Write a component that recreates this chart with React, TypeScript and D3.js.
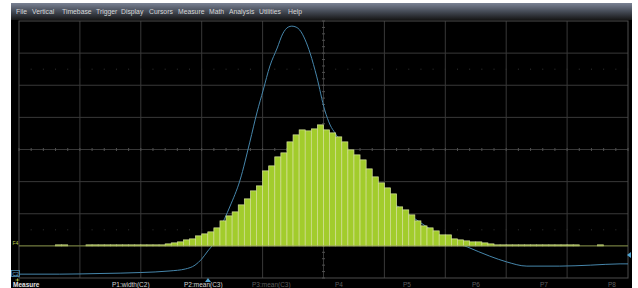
import React from "react";
import * as d3 from "d3";

const WIDTH = 638;
const HEIGHT = 288;

// histogram of the F4 math trace, 100 bins across 10 divisions
const binCounts = [
  0, 0, 0, 0, 0, 0, 1, 1, 0, 0,
  0, 1, 1, 1, 1, 1, 1, 1, 1, 1,
  1, 1, 1, 1, 2, 3, 4, 6, 7, 10,
  12, 14, 18, 25, 30, 34, 41, 47, 55, 60,
  75, 80, 89, 93, 104, 111, 116, 115, 117, 121,
  116, 113, 109, 104, 96, 91, 86, 77, 69, 63,
  58, 52, 39, 36, 31, 25, 20, 18, 15, 11,
  11, 7, 6, 5, 4, 4, 3, 2, 1, 1,
  1, 1, 1, 1, 1, 1, 1, 1, 1, 1,
  1, 1, 0, 0, 0, 1, 0, 0, 0, 0,
];

// C2 trace, in divisions (x: 0..10, y: 0..8 from bottom)
const traceX = [
  0, 0.67, 1.33, 1.99, 2.48, 2.73, 2.89, 3.0, 3.1, 3.19, 3.3, 3.46, 3.63,
  3.79, 3.91, 4.01, 4.12, 4.24, 4.33, 4.42, 4.48, 4.55, 4.61, 4.7, 4.78,
  4.89, 5.02, 5.11, 5.19, 5.6, 6.09, 6.58, 6.99, 7.37, 7.73, 8.01, 8.34,
  8.88, 9.38, 9.87, 10,
];
const traceY = [
  0.12, 0.12, 0.14, 0.17, 0.22, 0.28, 0.4, 0.59, 0.84, 1.06, 1.53, 2.21,
  3.05, 4.23, 5.17, 5.85, 6.6, 7.16, 7.6, 7.81, 7.84, 7.81, 7.72, 7.41, 7.0,
  6.26, 5.23, 4.76, 4.51, 3.36, 2.43, 1.74, 1.25, 0.96, 0.68, 0.5, 0.37,
  0.37, 0.4, 0.44, 0.44,
];

const menuItems = [
  "File", "Vertical", "Timebase", "Trigger", "Display", "Cursors",
  "Measure", "Math", "Analysis", "Utilities", "Help",
];
const menuX = [16, 32, 62, 96, 121, 149, 178, 209, 229, 259, 288];

const measureLabels = [
  "P1:width(C2)", "P2:mean(C3)", "P3:mean(C3)", "P4", "P5", "P6", "P7", "P8",
];
const measureX = [112, 184, 252, 335, 403, 472, 540, 608];

export default function App() {
  const x = d3.scaleLinear().domain([0, 10]).range([19, 628]);
  const y = d3.scaleLinear().domain([0, 8]).range([278, 21]);
  const binX = d3.scaleLinear().domain([0, binCounts.length]).range([19, 628]);
  const yHist = d3.scaleLinear().domain([0, 128.5]).range([y(1), y(5)]);

  const trace = d3
    .line<number>()
    .x((d, i) => x(traceX[i]))
    .y(d => y(d))
    .curve(d3.curveMonotoneX)(traceY);

  const minor = d3.range(0, 10.001, 0.2);
  const minorY = d3.range(0, 8.001, 0.2);

  return (
    <svg
      width={WIDTH}
      height={HEIGHT}
      style={{ position: "absolute", left: 0, top: 0 }}
      fontFamily="'Liberation Sans', Arial, sans-serif"
    >
      <defs>
        <linearGradient id="menu" x1="0" y1="0" x2="0" y2="1">
          <stop offset="0" stopColor="#7a8294" />
          <stop offset="0.45" stopColor="#4a505c" />
          <stop offset="1" stopColor="#161616" />
        </linearGradient>
      </defs>
      <rect x={0} y={0} width={WIDTH} height={HEIGHT} fill="#fff" />
      <rect x={11} y={3} width={621} height={HEIGHT - 3} fill="#000" />
      <rect x={11} y={3} width={621} height={17} fill="url(#menu)" />
      {menuItems.map((m, i) => (
        <text key={m} x={menuX[i]} y={14} fontSize={6.8} fill="#d6d6d6">
          {m}
        </text>
      ))}

      {/* grid */}
      {d3.range(1, 10).map(i => (
        <line key={"v" + i} x1={x(i)} x2={x(i)} y1={y(0)} y2={y(8)} stroke="#383838" />
      ))}
      {d3.range(1, 8).map(i => (
        <line key={"h" + i} x1={x(0)} x2={x(10)} y1={y(i)} y2={y(i)} stroke="#383838" />
      ))}
      <rect x={x(0)} y={y(8)} width={x(10) - x(0)} height={y(0) - y(8)} fill="none" stroke="#4c4c4c" />
      {minor.map(v => (
        <g key={"t" + v}>
          <line x1={x(v)} x2={x(v)} y1={y(4) - 1.5} y2={y(4) + 1.5} stroke="#505050" />
          <rect x={x(v) - 0.5} y={y(6.5) - 0.5} width={1} height={1} fill="#333" />
          <rect x={x(v) - 0.5} y={y(1.5) - 0.5} width={1} height={1} fill="#333" />
        </g>
      ))}
      {minorY.map(v => (
        <line key={"ty" + v} x1={x(5) - 1.5} x2={x(5) + 1.5} y1={y(v)} y2={y(v)} stroke="#505050" />
      ))}

      {/* C2 trace */}
      <path d={trace ?? ""} fill="none" stroke="#4686ab" strokeWidth={1} />

      {/* histogram */}
      {binCounts.map((c, i) =>
        c > 0 ? (
          <rect
            key={"b" + i}
            x={binX(i)}
            y={yHist(c)}
            width={binX(i + 1) - binX(i)}
            height={yHist(0) - yHist(c)}
            fill="#a2cc2c"
            stroke="#d8e49c"
            strokeWidth={0.7}
          />
        ) : null
      )}
      <line x1={x(0)} x2={x(10)} y1={y(1)} y2={y(1)} stroke="#8c9c3c" strokeWidth={0.8} />

      {/* trace markers */}
      <text x={12.5} y={y(1) - 1} fontSize={5} fill="#b4c84a">F4</text>
      <rect x={11.5} y={270.5} width={8} height={6} fill="none" stroke="#4f93b8" strokeWidth={0.8} />
      <text x={12.5} y={275.8} fontSize={5} fill="#6fb0d8">C2</text>
      <path d="M15.5,280 L19.5,280 M17.5,278.5 L17.5,281.5" stroke="#b4c84a" strokeWidth={0.8} />
      <path d="M631,252 L627,255 L631,258 Z" fill="#4fa3d0" />
      <path d="M205,282 L208,278 L211,282 Z" fill="#4fa3d0" />

      {/* measure row */}
      <text x={13} y={287} fontSize={6.5} fontWeight="bold" fill="#e0e0e0">Measure</text>
      {measureLabels.map((m, i) => (
        <text key={m + i} x={measureX[i]} y={287} fontSize={6.5} fill={i < 2 ? "#d4d4d4" : "#5e5e5e"}>
          {m}
        </text>
      ))}
    </svg>
  );
}
